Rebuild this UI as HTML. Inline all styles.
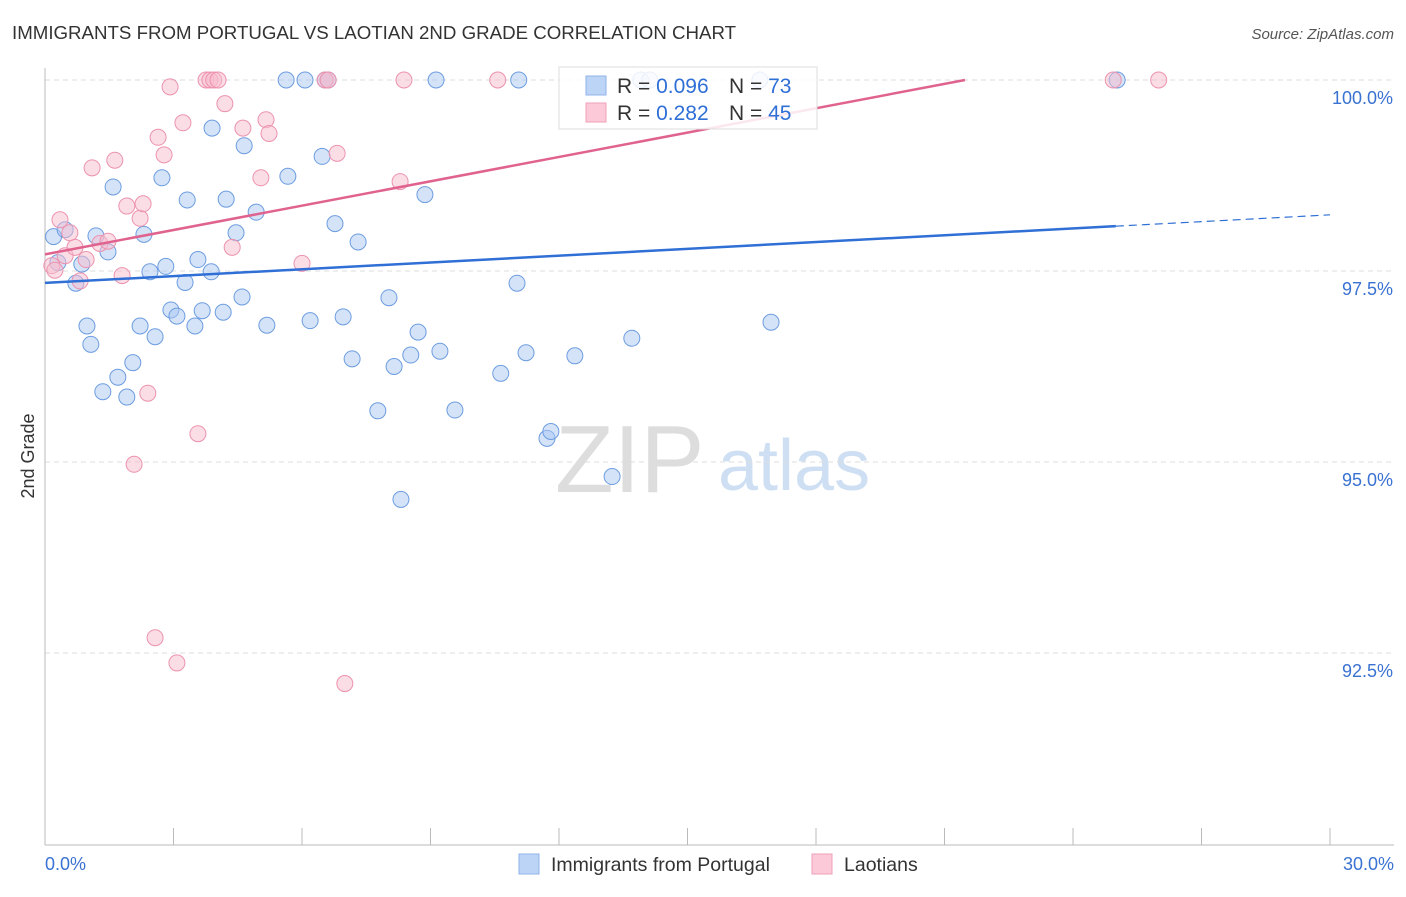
<!DOCTYPE html>
<html><head><meta charset="utf-8"><style>
body{margin:0;background:#fff;font-family:"Liberation Sans",sans-serif;}
svg text{font-family:"Liberation Sans",sans-serif;}
</style></head><body>
<svg width="1406" height="892" xmlns="http://www.w3.org/2000/svg">
<text x="12" y="39" font-size="18.7" fill="#333">IMMIGRANTS FROM PORTUGAL VS LAOTIAN 2ND GRADE CORRELATION CHART</text>
<text x="1394" y="39" font-size="15" fill="#555" text-anchor="end" font-style="italic">Source: ZipAtlas.com</text>
<text x="555" y="492" font-size="96" fill="#ddd" font-family="Liberation Serif">ZIP</text>
<text x="718" y="490" font-size="72" fill="#cfdff3">atlas</text>
<g id="grid"></g>
<g id="axes"></g>
<g id="marks"></g>
<text x="34" y="456" font-size="18" fill="#333" text-anchor="middle" transform="rotate(-90 34 456)">2nd Grade</text>
<g>
<rect x="559" y="67" width="258" height="62" fill="#fff" fill-opacity="0.85" stroke="#ddd"/>
<rect x="586" y="76" width="20" height="19" fill="#bcd4f6" stroke="#8fb3e8"/>
<rect x="586" y="103" width="20" height="19" fill="#fbc9d7" stroke="#f0a0b8"/>
<text x="617" y="93" font-size="21" fill="#333">R = <tspan fill="#2f6fd6">0.096</tspan></text>
<text x="729" y="93" font-size="21" fill="#333">N = <tspan fill="#2f6fd6">73</tspan></text>
<text x="617" y="120" font-size="21" fill="#333">R = <tspan fill="#2f6fd6"> 0.282</tspan></text>
<text x="729" y="120" font-size="21" fill="#333">N = <tspan fill="#2f6fd6">45</tspan></text>
</g>
<g>
<rect x="519" y="854" width="20" height="20" fill="#bcd4f6" stroke="#8fb3e8"/>
<text x="551" y="871" font-size="19.5" fill="#333">Immigrants from Portugal</text>
<rect x="812" y="854" width="20" height="20" fill="#fbc9d7" stroke="#f0a0b8"/>
<text x="844" y="871" font-size="19.5" fill="#333">Laotians</text>
</g>
</svg>
<script>
const yTicks=[100,97.5,95,92.5];
const yTickLabels=["100.0%","97.5%","95.0%","92.5%"];
const blueX=[0.2,0.47,0.3,0.72,0.86,1.19,1.47,0.98,1.07,1.35,1.7,1.91,2.05,2.22,2.57,2.31,2.45,2.73,2.82,2.94,3.08,3.27,3.32,3.5,3.57,3.67,3.88,3.9,4.16,4.23,4.46,4.6,4.65,4.93,5.18,5.67,5.63,6.07,6.19,6.47,6.54,6.61,6.77,6.96,7.17,7.31,7.77,8.03,8.15,8.31,8.54,8.71,8.87,9.13,9.22,9.57,10.64,11.02,11.06,11.23,11.72,11.81,12.37,13.24,13.7,13.91,14.12,16.69,16.95,25.03,1.59];
const blueY=[97.95,98.04,97.61,97.34,97.59,97.96,97.75,96.78,96.54,95.92,96.11,95.85,96.3,96.78,96.64,97.98,97.49,98.72,97.56,96.99,96.91,97.35,98.43,96.78,97.65,96.98,97.49,99.37,96.96,98.44,98.0,97.16,99.14,98.27,96.79,98.74,100,100,96.85,99.0,100,100,98.12,96.9,96.35,97.88,95.67,97.15,96.25,94.51,96.4,96.7,98.5,100,96.45,95.68,96.16,97.34,100,96.43,95.31,95.4,96.39,94.81,96.62,100,100,100,96.83,100,98.6];
const pinkX=[0.16,0.23,0.35,0.47,0.58,0.7,0.82,0.96,1.1,1.28,1.47,1.63,1.8,1.91,2.08,2.22,2.29,2.4,2.57,2.64,2.78,2.92,3.08,3.22,3.57,3.76,3.85,3.94,4.04,4.2,4.37,4.62,5.04,5.16,5.23,6.0,6.54,6.61,6.82,7.0,8.29,8.38,10.57,24.94,26.0];
const pinkY=[97.57,97.51,98.17,97.7,98.0,97.81,97.37,97.65,98.85,97.86,97.89,98.95,97.44,98.35,94.97,98.19,98.38,95.9,92.7,99.25,99.02,99.91,92.37,99.44,95.37,100,100,100,100,99.69,97.81,99.37,98.72,99.48,99.3,97.6,100,100,99.04,92.1,98.67,100,100,100,100];
const X0=45,X1=1330,Y100=80,PX=76.4;
const sx=v=>X0+v/30*(X1-X0), sy=v=>Y100+(100-v)*PX;
const NS="http://www.w3.org/2000/svg";
function mk(p,t,a){const e=document.createElementNS(NS,t);for(const k in a)e.setAttribute(k,a[k]);p.appendChild(e);return e;}
const grid=document.getElementById('grid'),axes=document.getElementById('axes'),marks=document.getElementById('marks');
yTicks.forEach((t,i)=>{
 const l=mk(grid,'line',{x1:45,x2:1394,y1:sy(t),y2:sy(t),stroke:'#ddd','stroke-dasharray':'5,4'});
 
 
 const tx=mk(axes,'text',{x:1393,y:sy(t)+24,'font-size':18,fill:'#3a72d2','text-anchor':'end'});
 tx.textContent=yTickLabels[i];
 
 
});
const ax=mk(axes,'line',{x1:45,x2:45,y1:68,y2:845,stroke:'#bbb'});


const bx=mk(axes,'line',{x1:45,x2:1394,y1:845,y2:845,stroke:'#bbb'});


for(let i=0;i<=10;i++){const t=mk(axes,'line',{x1:sx(i*3),x2:sx(i*3),y1:828,y2:845,stroke:'#bbb'});
 
 }
[[45,'start','0.0%'],[1394,'end','30.0%']].forEach(([x,a,s])=>{const t=mk(axes,'text',{x:x,y:870,'font-size':18,fill:'#3a72d2','text-anchor':a});t.textContent=s;
 
 });
function dots(xs,ys,fill,stroke,name){xs.forEach((x,i)=>{const c=mk(marks,'circle',{cx:sx(x),cy:sy(ys[i]),r:8,fill:fill,'fill-opacity':0.5,stroke:stroke,'stroke-width':1});
 
 });}
dots(blueX,blueY,'#aac8f2','#6d9de0','point-portugal');
dots(pinkX,pinkY,'#f8bccd','#ec93ae','point-laotians');
function fit(xs,ys){const n=xs.length,mx=xs.reduce((a,b)=>a+b)/n,my=ys.reduce((a,b)=>a+b)/n;let sxy=0,sxx=0;xs.forEach((x,i)=>{sxy+=(x-mx)*(ys[i]-my);sxx+=(x-mx)**2});const b=sxy/sxx;return [my-b*mx,b];}
const [ba,bb]=fit(blueX,blueY),[pa,pb]=fit(pinkX,pinkY);
let l=mk(marks,'line',{x1:sx(0),y1:sy(ba),x2:sx(25),y2:sy(ba+bb*25),stroke:'#2f6fd6','stroke-width':2.5});


l=mk(marks,'line',{x1:sx(25),y1:sy(ba+bb*25),x2:sx(30),y2:sy(ba+bb*30),stroke:'#2f6fd6','stroke-width':1.2,'stroke-dasharray':'8,5'});


const xe=Math.min(30,(100-pa)/pb);
l=mk(marks,'line',{x1:sx(0),y1:sy(pa),x2:sx(xe),y2:sy(pa+pb*xe),stroke:'#e0628e','stroke-width':2.5});


</script>
</body></html>
